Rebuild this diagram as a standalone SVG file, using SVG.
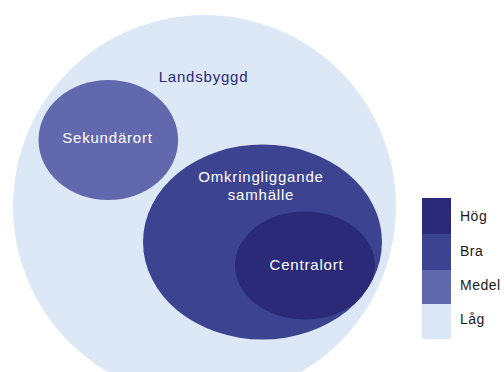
<svg xmlns="http://www.w3.org/2000/svg" width="504" height="372" viewBox="0 0 504 372">
<style>
text{font-family:"Liberation Sans",Arial,sans-serif;}
.w{fill:#ffffff;font-size:15px;letter-spacing:0.8px;text-anchor:middle;}
.lg{fill:#1a1a1a;font-size:14px;letter-spacing:0.5px;}
</style>
<defs>
<clipPath id="omk"><ellipse cx="262.5" cy="242" rx="119.5" ry="97.5"/></clipPath>
</defs>
<rect width="504" height="372" fill="#ffffff"/>
<g id="landsbyggd">
<circle cx="204.5" cy="206.5" r="191.5" fill="#dde8f6"/>
<text x="203.5" y="82" style="fill:#2a2a78;font-size:15px;letter-spacing:0.8px;text-anchor:middle;">Landsbyggd</text>
</g>
<g id="sekundarort">
<ellipse cx="108.3" cy="140" rx="69.8" ry="60" fill="#6268ad"/>
<text class="w" x="107.5" y="143">Sekundärort</text>
</g>
<g id="omkringliggande">
<ellipse cx="262.5" cy="242" rx="119.5" ry="97.5" fill="#3c4492"/>
<text class="w" x="261" y="182">Omkringliggande</text>
<text class="w" x="261" y="200">samhälle</text>
</g>
<g id="centralort">
<ellipse cx="305" cy="265.5" rx="70" ry="54" fill="#2a2a78" clip-path="url(#omk)"/>
<text class="w" x="306.5" y="270">Centralort</text>
</g>
<g id="legend">
<rect x="422" y="198" width="29" height="36" fill="#2a2a78"/>
<rect x="422" y="234" width="29" height="36" fill="#3c4492"/>
<rect x="422" y="270" width="29" height="34" fill="#6268ad"/>
<rect x="422" y="304" width="29" height="35" fill="#dde8f6"/>
<text class="lg" x="460" y="221">Hög</text>
<text class="lg" x="460" y="256">Bra</text>
<text class="lg" x="460" y="290">Medel</text>
<text class="lg" x="460" y="324">Låg</text>
</g>
<g id="connectors"></g>
</svg>
